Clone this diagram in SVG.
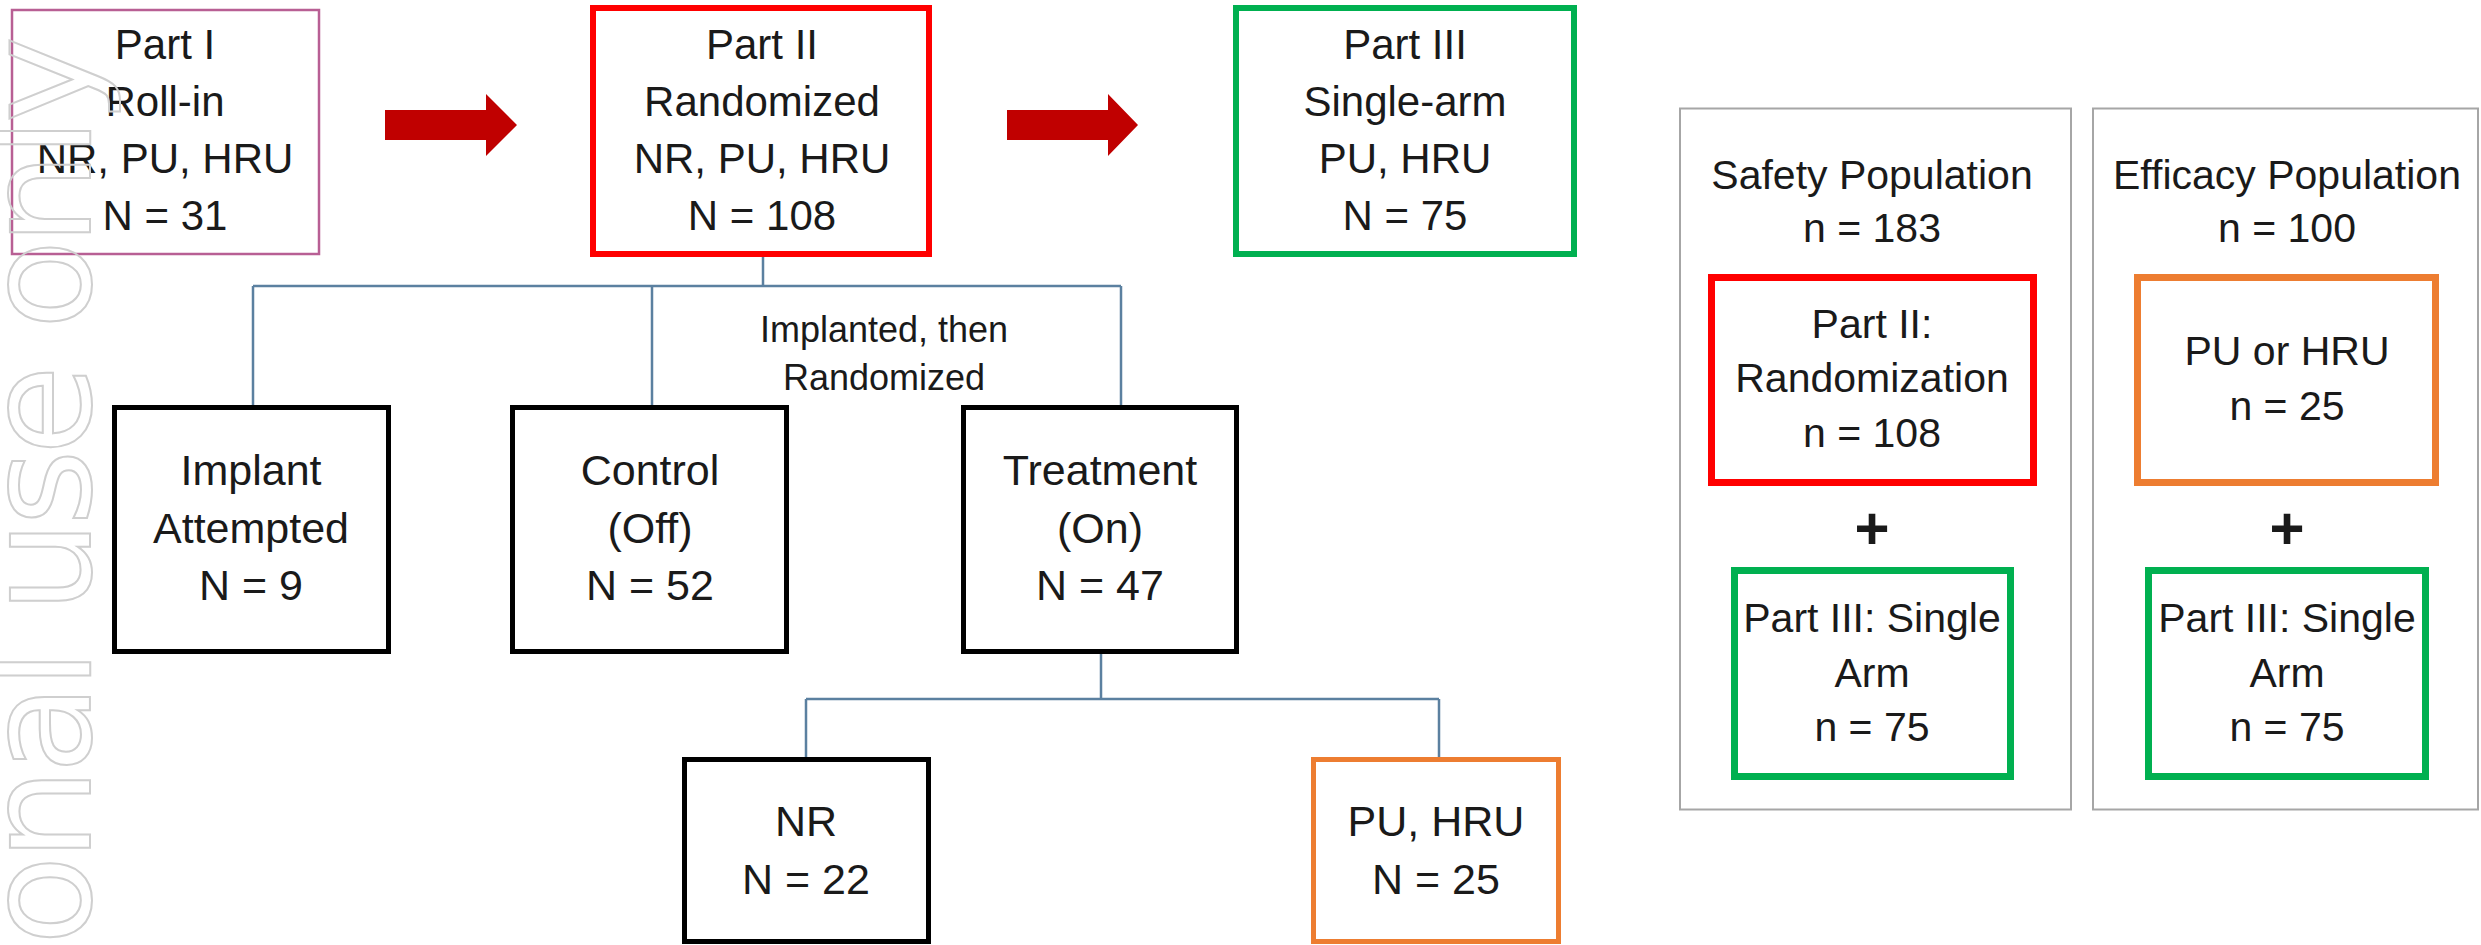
<svg xmlns="http://www.w3.org/2000/svg" width="2481" height="945" viewBox="0 0 2481 945">
<style>
text{font-family:"Liberation Sans",Arial,sans-serif;fill:#1a1a1a;text-anchor:middle}
.t{font-size:42px}
.b{font-size:43px}
.r{font-size:41px}
.lbl{font-size:36px}
.plus{font-size:60px;font-weight:bold}
.box{fill:#fff}
.blk{stroke:#000;stroke-width:5}
.red{stroke:#ff0000;stroke-width:6}
.grn{stroke:#00b050;stroke-width:6}
.org{stroke:#ed7d31;stroke-width:5}
.red7{stroke:#ff0000;stroke-width:7}
.grn7{stroke:#00b050;stroke-width:7}
.org7{stroke:#ed7d31;stroke-width:7}
.panel{fill:#fff;stroke:#a6a6a6;stroke-width:2}
.conn{fill:none;stroke:#5b80a0;stroke-width:2.5}
.arrow{fill:#c00000}
.wm{font-family:"DejaVu Sans",sans-serif;font-size:147px;fill:none;stroke:#cfcfcf;stroke-width:2;text-anchor:end}
</style>
<rect x="0" y="0" width="2481" height="945" fill="#fff"/>
<g id="connectors">
<path class="conn" d="M763,257 V286 M253,286 H1121 M253,286 V405 M652,286 V405 M1121,286 V405"/>
<path class="conn" d="M1101,654 V699 M806,699 H1439 M806,699 V757 M1439,699 V757"/>
<polygon class="arrow" points="385,110 486,110 486,94 517,125 486,156 486,140 385,140"/>
<polygon class="arrow" points="1007,110 1108,110 1108,94 1138,125 1108,156 1108,140 1007,140"/>
</g>
<g id="part1">
<rect class="box" x="12" y="10" width="307" height="244" fill="#fff" stroke="#b85f94" stroke-width="2.5"/>
<text class="t" x="165" y="59">Part I</text>
<text class="t" x="165" y="116">Roll-in</text>
<text class="t" x="165" y="173">NR, PU, HRU</text>
<text class="t" x="165" y="230">N = 31</text>
</g>
<g id="part2">
<rect class="box red" x="593" y="8" width="336" height="246"/>
<text class="t" x="762" y="59">Part II</text>
<text class="t" x="762" y="116">Randomized</text>
<text class="t" x="762" y="173">NR, PU, HRU</text>
<text class="t" x="762" y="230">N = 108</text>
</g>
<g id="part3">
<rect class="box grn" x="1236" y="8" width="338" height="246"/>
<text class="t" x="1405" y="59">Part III</text>
<text class="t" x="1405" y="116">Single-arm</text>
<text class="t" x="1405" y="173">PU, HRU</text>
<text class="t" x="1405" y="230">N = 75</text>
</g>
<g id="label-implanted">
<text class="lbl" x="884" y="342">Implanted, then</text>
<text class="lbl" x="884" y="390">Randomized</text>
</g>
<g id="implant">
<rect class="box blk" x="114.5" y="407.5" width="274" height="244"/>
<text class="b" x="251" y="485">Implant</text>
<text class="b" x="251" y="543">Attempted</text>
<text class="b" x="251" y="600">N = 9</text>
</g>
<g id="control">
<rect class="box blk" x="512.5" y="407.5" width="274" height="244"/>
<text class="b" x="650" y="485">Control</text>
<text class="b" x="650" y="543">(Off)</text>
<text class="b" x="650" y="600">N = 52</text>
</g>
<g id="treatment">
<rect class="box blk" x="963.5" y="407.5" width="273" height="244"/>
<text class="b" x="1100" y="485">Treatment</text>
<text class="b" x="1100" y="543">(On)</text>
<text class="b" x="1100" y="600">N = 47</text>
</g>
<g id="nr">
<rect class="box blk" x="684.5" y="759.5" width="244" height="182"/>
<text class="b" x="806" y="836">NR</text>
<text class="b" x="806" y="894">N = 22</text>
</g>
<g id="puhru">
<rect class="box org" x="1313.5" y="759.5" width="245" height="182"/>
<text class="b" x="1436" y="836">PU, HRU</text>
<text class="b" x="1436" y="894">N = 25</text>
</g>
<g id="safety">
<rect class="panel" x="1680" y="108.5" width="391" height="701"/>
<text class="r" x="1872" y="189">Safety Population</text>
<text class="r" x="1872" y="242">n = 183</text>
<rect class="box red7" x="1711.5" y="277.5" width="322" height="205"/>
<text class="r" x="1872" y="338">Part II:</text>
<text class="r" x="1872" y="392">Randomization</text>
<text class="r" x="1872" y="447">n = 108</text>
<text class="plus" x="1872" y="549">+</text>
<rect class="box grn7" x="1734.5" y="570.5" width="276" height="206"/>
<text class="r" x="1872" y="632">Part III: Single</text>
<text class="r" x="1872" y="687">Arm</text>
<text class="r" x="1872" y="741">n = 75</text>
</g>
<g id="efficacy">
<rect class="panel" x="2093" y="108.5" width="385" height="701"/>
<text class="r" x="2287" y="189">Efficacy Population</text>
<text class="r" x="2287" y="242">n = 100</text>
<rect class="box org7" x="2137.5" y="277.5" width="298" height="205"/>
<text class="r" x="2287" y="365">PU or HRU</text>
<text class="r" x="2287" y="420">n = 25</text>
<text class="plus" x="2287" y="549">+</text>
<rect class="box grn7" x="2148.5" y="570.5" width="277" height="206"/>
<text class="r" x="2287" y="632">Part III: Single</text>
<text class="r" x="2287" y="687">Arm</text>
<text class="r" x="2287" y="741">n = 75</text>
</g>
<text class="wm" transform="translate(90,36) rotate(-90)" x="0" y="0" textLength="980" lengthAdjust="spacing">sonal use only</text>
</svg>
